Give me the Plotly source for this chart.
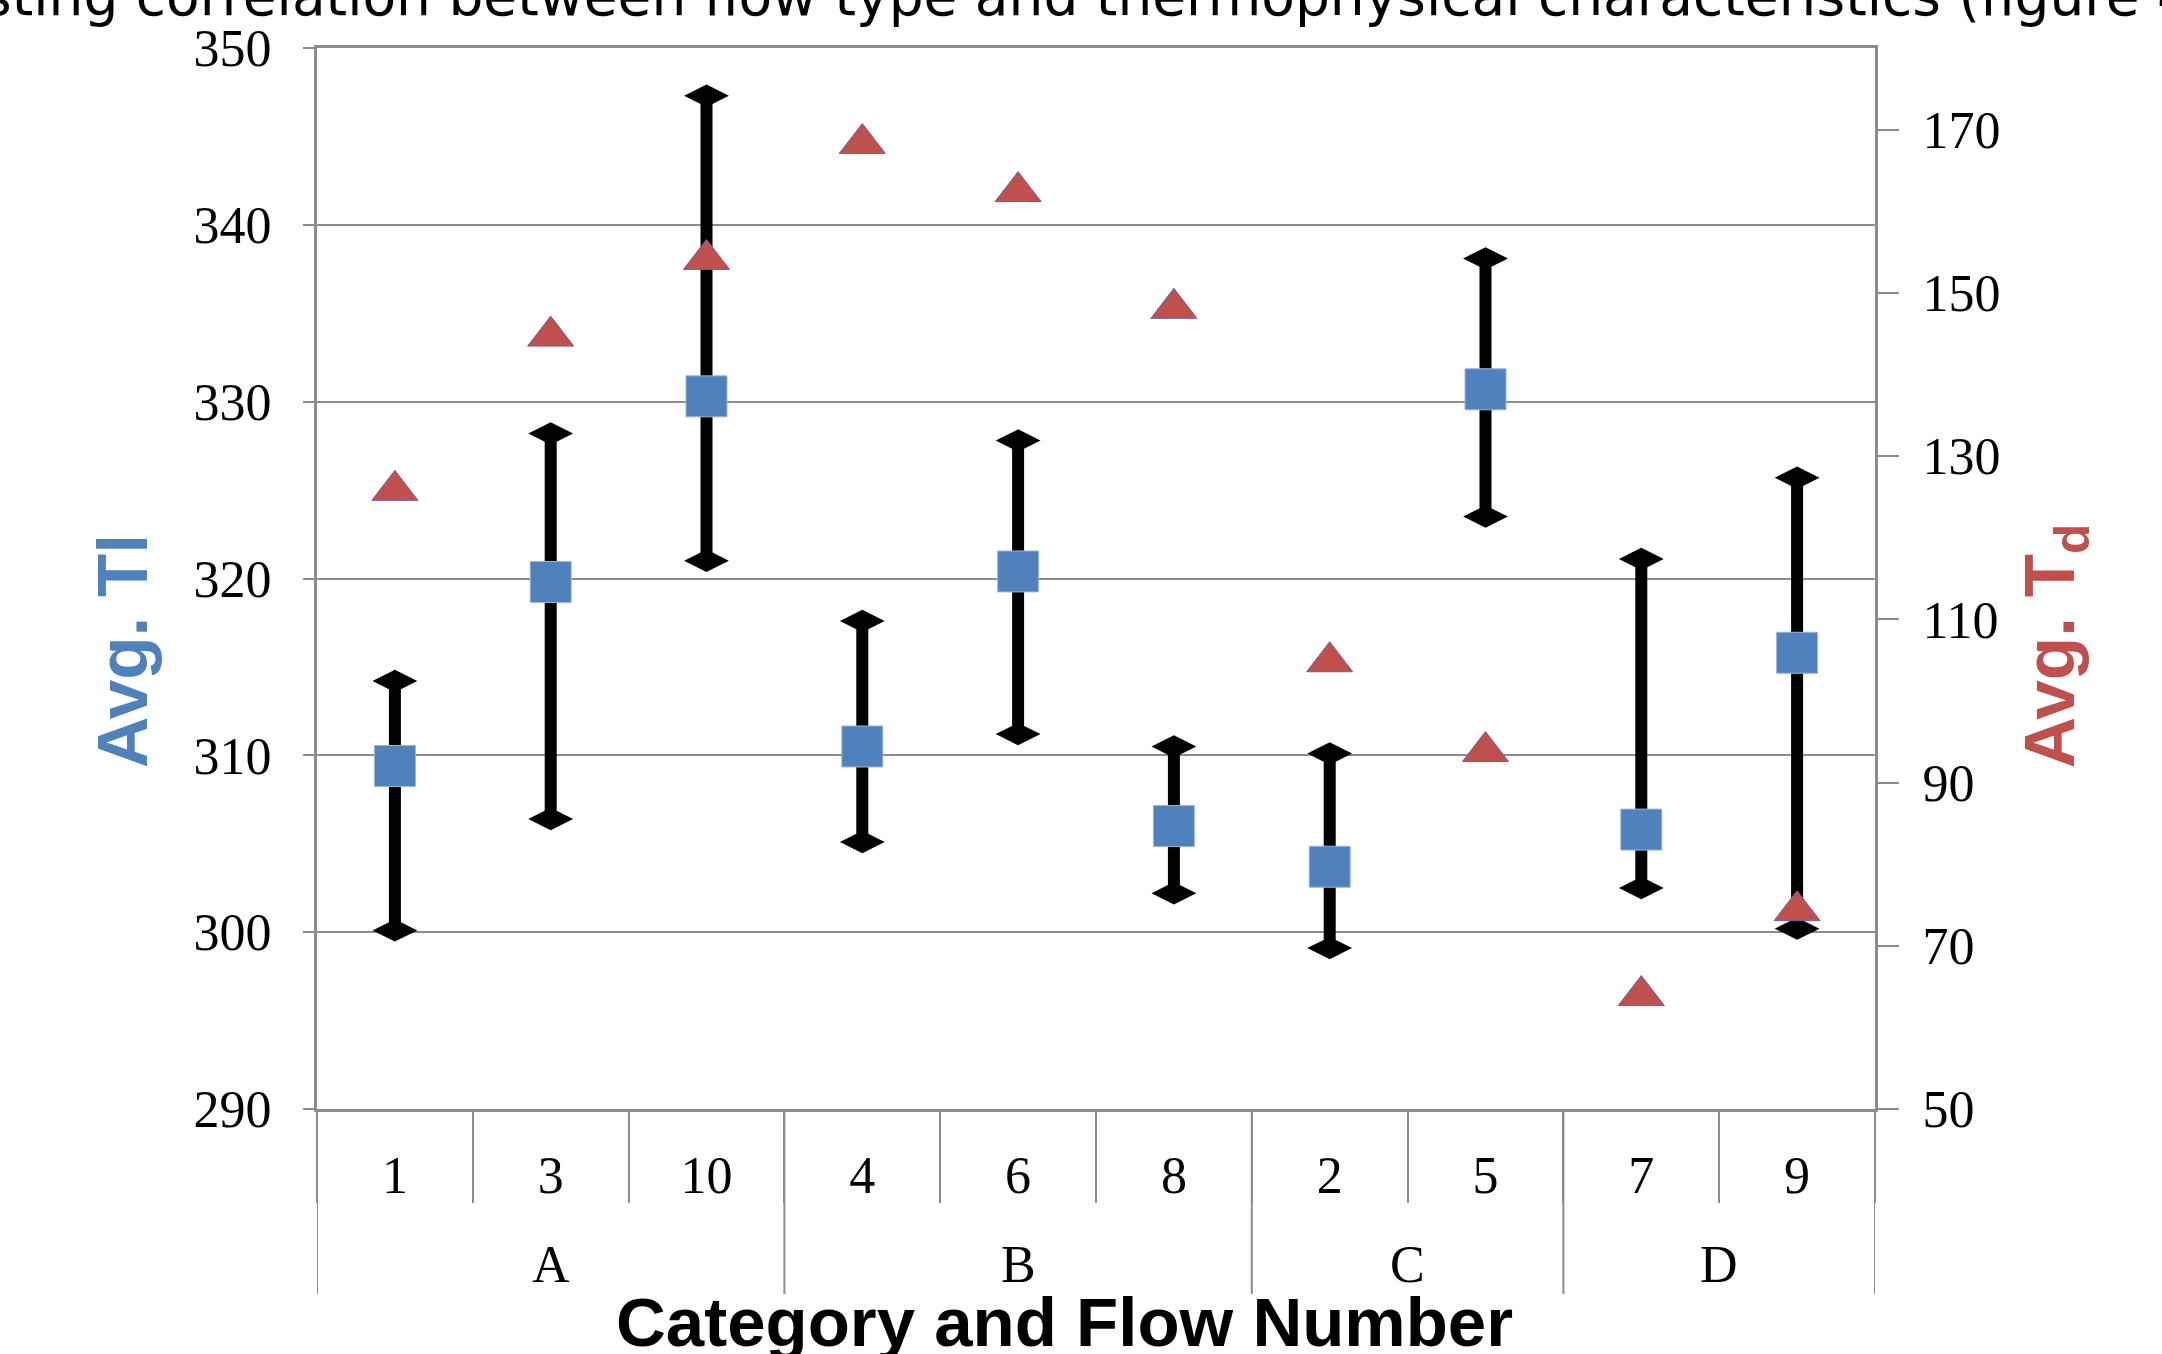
import plotly.graph_objects as go

# ---- data ----
groups = ["A", "A", "A", "B", "B", "B", "C", "C", "D", "D"]
flows = ["1", "3", "10", "4", "6", "8", "2", "5", "7", "9"]
avg_tl = [309.4, 319.8, 330.3, 310.5, 320.4, 306.0, 303.7, 330.7, 305.8, 315.8]
tl_high = [314.2, 328.2, 347.3, 317.6, 327.8, 310.5, 310.1, 338.1, 321.1, 325.7]
tl_low = [300.1, 306.4, 321.0, 305.1, 311.2, 302.2, 299.1, 323.5, 302.5, 300.2]
avg_td = [125.8, 144.7, 154.1, 168.3, 162.4, 148.1, 104.8, 93.8, 63.9, 74.3]

left_ticks = [290, 300, 310, 320, 330, 340, 350]
right_ticks = [50, 70, 90, 110, 130, 150, 170]

BLUE = "#4F81BD"
RED = "#C0504D"
GRID = "#8C8C8C"
SERIF = "Liberation Serif, Times New Roman, serif"
SANS = "Liberation Sans, Arial, sans-serif"

fig = go.Figure()

# high-low bars (vertical lines drawn as error bars from the high value down to the low value)
fig.add_trace(go.Scatter(
    x=flows, y=tl_high, mode="markers",
    marker=dict(symbol="diamond-wide", size=32, color="black"),
    error_y=dict(type="data", symmetric=False,
                 array=[0] * len(tl_high),
                 arrayminus=[h - l for h, l in zip(tl_high, tl_low)],
                 color="black", thickness=12, width=0),
    showlegend=False, hoverinfo="skip"))
fig.add_trace(go.Scatter(
    x=flows, y=tl_low, mode="markers",
    marker=dict(symbol="diamond-wide", size=32, color="black"),
    showlegend=False, hoverinfo="skip"))
# average Tl squares
fig.add_trace(go.Scatter(
    x=flows, y=avg_tl, mode="markers", name="Avg. Tl",
    marker=dict(symbol="square", size=41, color=BLUE,
                line=dict(color="#9DB5DA", width=1)),
    showlegend=False))
# average Td triangles (right axis)
fig.add_trace(go.Scatter(
    x=flows, y=avg_td, mode="markers", name="Avg. Td", yaxis="y2",
    marker=dict(symbol="triangle-up", size=40, color=RED,
                line=dict(color="#7060A8", width=1)),
    showlegend=False))

# group divider lines and group labels
shapes = []
annotations = []
bounds = [-0.5]
start = 0
uniq = []
for i, g in enumerate(groups):
    if i == len(groups) - 1 or groups[i + 1] != g:
        uniq.append((g, (start + i) / 2))
        bounds.append(i + 0.5)
        start = i + 1
for b in bounds:
    shapes.append(dict(type="line", xref="x", yref="paper", x0=b, x1=b,
                       y0=0, y1=-0.1744, line=dict(color=GRID, width=2)))
for g, c in uniq:
    annotations.append(dict(x=c, y=-0.147, xref="x", yref="paper", text=g,
                            showarrow=False, yanchor="middle",
                            font=dict(family=SERIF, size=52, color="black")))

# axis titles
annotations.append(dict(x=-0.1245, y=0.4317, xref="paper", yref="paper",
                        text="<b>Avg. Tl</b>", textangle=-90, showarrow=False,
                        xanchor="center", yanchor="middle",
                        font=dict(family=SANS, size=71, color=BLUE)))
annotations.append(dict(x=1.1155, y=0.437, xref="paper", yref="paper",
                        text="<b>Avg. T<sub>d</sub></b>", textangle=-90, showarrow=False,
                        xanchor="center", yanchor="middle",
                        font=dict(family=SANS, size=71, color=RED)))
annotations.append(dict(x=0.4795, y=-0.2008, xref="paper", yref="paper",
                        text="<b>Category and Flow Number</b>", showarrow=False,
                        xanchor="center", yanchor="middle",
                        font=dict(family=SANS, size=69, color="black")))
# title (clipped at top of image)
annotations.append(dict(x=-0.2535, y=1.049, xref="paper", yref="paper",
                        text="Testing correlation between flow type and thermophysical characteristics (figure 4)",
                        showarrow=False, xanchor="left", yanchor="middle",
                        font=dict(family="DejaVu Sans, sans-serif", size=55, color="black")))

fig.update_layout(
    width=2162, height=1354,
    margin=dict(l=317, r=287, t=48, b=245),
    paper_bgcolor="white", plot_bgcolor="white",
    showlegend=False,
    shapes=shapes, annotations=annotations,
    xaxis=dict(type="category", categoryorder="array", categoryarray=flows,
               range=[-0.5, len(flows) - 0.5],
               showline=True, linecolor=GRID, linewidth=3, mirror=True,
               showgrid=False, zeroline=False,
               ticks="outside", tickson="boundaries", ticklen=91,
               tickcolor=GRID, tickwidth=2,
               ticklabelstandoff=19,
               tickfont=dict(family=SERIF, size=52, color="black")),
    yaxis=dict(range=[290, 350], tickvals=left_ticks,
               showline=True, linecolor=GRID, linewidth=3,
               showgrid=True, gridcolor=GRID, gridwidth=2, zeroline=False,
               ticks="outside", ticklen=11, tickcolor=GRID, tickwidth=2,
               ticklabelstandoff=21,
               tickfont=dict(family=SERIF, size=52, color="black")),
    yaxis2=dict(range=[50, 180], tickvals=right_ticks, overlaying="y", side="right",
                showline=True, linecolor=GRID, linewidth=3,
                showgrid=False, zeroline=False,
                ticks="outside", ticklen=21, tickcolor=GRID, tickwidth=2,
                ticklabelstandoff=13,
                tickfont=dict(family=SERIF, size=52, color="black")),
)

fig.write_html("out.html",
               config={"displayModeBar": False},
               post_script="document.body.style.margin='0';document.body.style.overflow='hidden';")
